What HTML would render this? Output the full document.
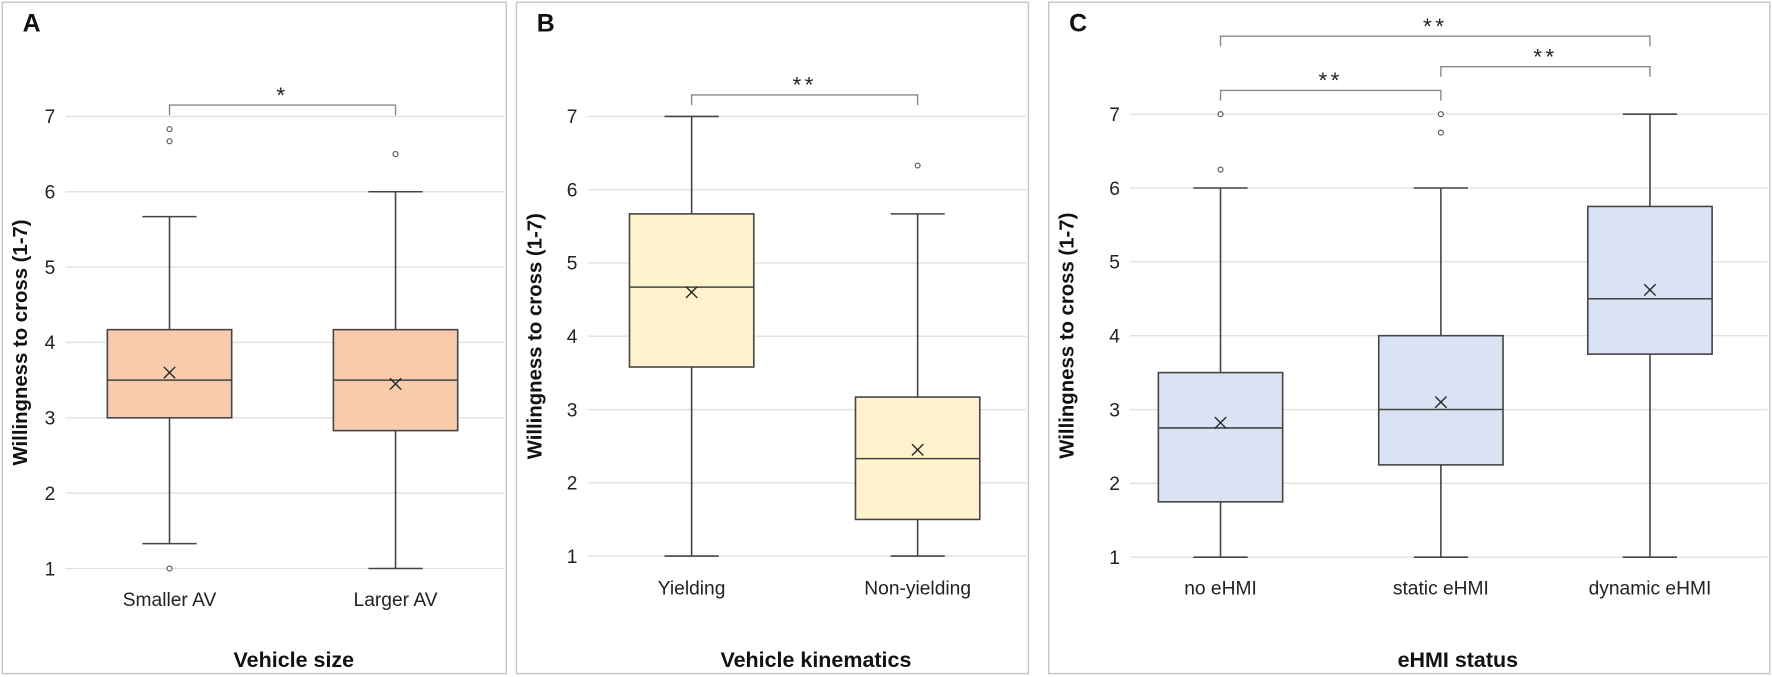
<!DOCTYPE html>
<html><head><meta charset="utf-8"><style>
body{margin:0;background:#fff;}
svg{display:block;font-family:"Liberation Sans","DejaVu Sans",sans-serif;}
</style></head><body>
<svg id="fig" width="1772" height="677" viewBox="0 0 1568 599" preserveAspectRatio="none" xmlns="http://www.w3.org/2000/svg"></svg>
<script>
// Panel A data
const catsA = ["Smaller AV","Larger AV"];
const loA = [1.33, 1], q1A = [3, 2.83], medA = [3.5, 3.5], q3A = [4.17, 4.17], hiA = [5.67, 6], meanA = [3.6, 3.45];
const outA = [[6.83, 6.67, 1.0], [6.5]];
// Panel B data
const catsB = ["Yielding","Non-yielding"];
const loB = [1, 1], q1B = [3.58, 1.5], medB = [4.67, 2.33], q3B = [5.67, 3.17], hiB = [7, 5.67], meanB = [4.6, 2.45];
const outB = [[], [6.33]];
// Panel C data
const catsC = ["no eHMI","static eHMI","dynamic eHMI"];
const loC = [1, 1, 1], q1C = [1.75, 2.25, 3.75], medC = [2.75, 3, 4.5], q3C = [3.5, 4, 5.75], hiC = [6, 6, 7], meanC = [2.82, 3.1, 4.62];
const outC = [[6.25, 7], [6.75, 7], []];
const yTicks = [1,2,3,4,5,6,7];

const NS = "http://www.w3.org/2000/svg";
const svg = document.getElementById('fig');
function mk(tag, attrs, parent){const e=document.createElementNS(NS,tag);for(const k in attrs)e.setAttribute(k,attrs[k]);(parent||svg).appendChild(e);return e;}
function txt(s, attrs, parent){const e=mk('text',attrs,parent);e.textContent=s;return e;}

function panel(cfg){
  const g = mk('g',{});
  
  
  const fr = mk('rect',{x:cfg.fx,y:2,width:cfg.fw,height:594,fill:'#fff',stroke:'#c8c8c8','stroke-width':1.3},g);
  
  
  const lt = txt(cfg.letter,{x:cfg.fx+18,y:28,'font-size':22,'font-weight':'bold',fill:'#111'},g);
  
  
  const y = v => cfg.y1 + (cfg.y7 - cfg.y1) * (v - 1) / 6;
  const n = cfg.cats.length;
  const x = i => cfg.centers[i];
  yTicks.forEach(t=>{
    const gl = mk('line',{x1:cfg.pl,x2:cfg.pr,y1:y(t),y2:y(t),stroke:'#e0e0e0','stroke-width':1.2},g);
    
    
    const tl = txt(String(t),{x:cfg.pl-9,y:y(t)+6,'font-size':17,'text-anchor':'end',fill:'#222'},g);
    
    
  });
  const hw = 55;
  for(let i=0;i<n;i++){
    const bg = mk('g',{},g);
    
    
    const cx = x(i);
    mk('line',{x1:cx,x2:cx,y1:y(cfg.lo[i]),y2:y(cfg.q1[i]),stroke:'#444','stroke-width':1.4},bg);
    mk('line',{x1:cx,x2:cx,y1:y(cfg.q3[i]),y2:y(cfg.hi[i]),stroke:'#444','stroke-width':1.4},bg);
    mk('line',{x1:cx-24,x2:cx+24,y1:y(cfg.lo[i]),y2:y(cfg.lo[i]),stroke:'#444','stroke-width':1.4},bg);
    mk('line',{x1:cx-24,x2:cx+24,y1:y(cfg.hi[i]),y2:y(cfg.hi[i]),stroke:'#444','stroke-width':1.4},bg);
    mk('rect',{x:cx-hw,y:y(cfg.q3[i]),width:2*hw,height:y(cfg.q1[i])-y(cfg.q3[i]),fill:cfg.fill,stroke:'#444','stroke-width':1.4},bg);
    mk('line',{x1:cx-hw,x2:cx+hw,y1:y(cfg.med[i]),y2:y(cfg.med[i]),stroke:'#444','stroke-width':1.4},bg);
    const my = y(cfg.mean[i]);
    mk('path',{d:`M${cx-5},${my-5}L${cx+5},${my+5}M${cx+5},${my-5}L${cx-5},${my+5}`,stroke:'#222','stroke-width':1.2},bg);
    cfg.out[i].forEach(o=>{
      const c = mk('circle',{cx:cx,cy:y(o),r:2.2,fill:'#fff',stroke:'#555','stroke-width':1},bg);
      
      
    });
    const cl = txt(cfg.cats[i],{x:cx,y:cfg.catY,'font-size':17,'text-anchor':'middle',fill:'#222'},g);
    
    
  }
  const xt = txt(cfg.xtitle,{x:(cfg.pl+cfg.pr)/2+8,y:595-2-0+(-3),'font-size':19,'font-weight':'bold','text-anchor':'middle',fill:'#111'},g);
  
  
  const ytx = cfg.fx+22, yty = (y(1)+y(7))/2;
  const yt = txt('Willingness to cross (1-7)',{x:ytx,y:yty,'font-size':18,'font-weight':'bold','text-anchor':'middle',fill:'#111',transform:`rotate(-90 ${ytx} ${yty})`},g);
  
  
  cfg.brackets.forEach(b=>{
    const x1=x(b[0]), x2=x(b[1]), by=b[2];
    const p = mk('path',{d:`M${x1},${by+9}L${x1},${by}L${x2},${by}L${x2},${by+9}`,fill:'none',stroke:'#888','stroke-width':1.2},g);
    
    
    const s = txt(b[3],{x:(x1+x2)/2,y:by-2,'font-size':20,'text-anchor':'middle',fill:'#222','letter-spacing':3},g);
    
    
  });
}

panel({name:'panel-a',letter:'A',fx:2,fw:446,pl:58,pr:446,y1:503,y7:103,centers:[150,350],cats:catsA,lo:loA,q1:q1A,med:medA,q3:q3A,hi:hiA,mean:meanA,out:outA,fill:'#f8cbad',catY:536,xtitle:'Vehicle size',brackets:[[0,1,93,'*']]});
panel({name:'panel-b',letter:'B',fx:457,fw:453,pl:520,pr:908,y1:492,y7:103,centers:[612,812],cats:catsB,lo:loB,q1:q1B,med:medB,q3:q3B,hi:hiB,mean:meanB,out:outB,fill:'#fff2cc',catY:526,xtitle:'Vehicle kinematics',brackets:[[0,1,84,'**']]});
panel({name:'panel-c',letter:'C',fx:928,fw:638,pl:1000,pr:1564,y1:493,y7:101,centers:[1080,1275,1460],cats:catsC,lo:loC,q1:q1C,med:medC,q3:q3C,hi:hiC,mean:meanC,out:outC,fill:'#dae3f3',catY:526,xtitle:'eHMI status',brackets:[[0,2,32,'**'],[0,1,80,'**'],[1,2,59,'**']]});
</script>
</body></html>
